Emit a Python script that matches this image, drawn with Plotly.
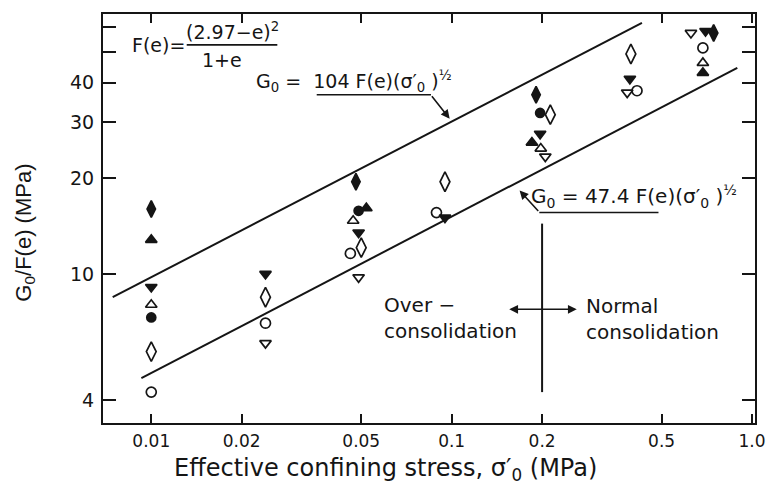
import plotly.graph_objects as go

# ---------------- data ----------------
x_ticks = [0.01, 0.02, 0.05, 0.1, 0.2, 0.5, 1.0]
x_ticktext = ["0.01", "0.02", "0.05", "0.1", "0.2", "0.5", "1.0"]
y_ticks = [4, 10, 20, 30, 40, 50, 60]
y_ticktext = ["4", "10", "20", "30", "40", "", ""]

# filled diamond
fd_x = [0.01, 0.048, 0.191, 0.745]
fd_y = [16.0, 19.5, 36.6, 57.3]
# filled triangle up
ftu_x = [0.01, 0.052, 0.185, 0.686]
ftu_y = [12.8, 16.1, 25.9, 42.9]
# filled triangle down
ftd_x = [0.01, 0.024, 0.049, 0.095, 0.197, 0.392, 0.70]
ftd_y = [9.1, 10.0, 13.5, 15.05, 27.6, 41.1, 58.1]
# open triangle up
otu_x = [0.01, 0.047, 0.198, 0.686]
otu_y = [8.0, 14.7, 24.8, 46.1]
# filled circle
fc_x = [0.01, 0.049, 0.197]
fc_y = [7.3, 15.8, 32.1]
# open diamond
od_x = [0.01, 0.024, 0.050, 0.095, 0.213, 0.395]
od_y = [5.7, 8.45, 12.1, 19.5, 31.7, 49.2]
# open circle
oc_x = [0.01, 0.024, 0.046, 0.089, 0.414, 0.686]
oc_y = [4.25, 7.0, 11.6, 15.6, 37.7, 51.4]
# open triangle down
otd_x = [0.024, 0.049, 0.205, 0.384, 0.626]
otd_y = [6.06, 9.76, 23.4, 37.2, 57.3]

# fitted lines (end points)
upper_x = [0.00744, 0.43]
upper_y = [8.45, 61.6]
lower_x = [0.00927, 0.893]
lower_y = [4.70, 44.5]
# boundary normal / over consolidation
bound_x = [0.2, 0.2]
bound_y = [14.4, 4.25]

# ---------------- layout helpers ----------------
W, H = 778, 489
L, R, T, B = 103, 765, 13, 423


def PX(px):
    return (px - L) / (R - L)


def PY(py):
    return (B - py) / (B - T)


INK = "#151515"
fig = go.Figure()

for xs, ys in [(upper_x, upper_y), (lower_x, lower_y), (bound_x, bound_y)]:
    fig.add_trace(go.Scatter(x=xs, y=ys, mode="lines",
                             line=dict(color=INK, width=2), showlegend=False,
                             hoverinfo="skip"))


def add_markers(xs, ys, symbol, size, filled, name):
    fig.add_trace(go.Scatter(
        x=xs, y=ys, mode="markers", name=name, showlegend=False,
        marker=dict(symbol=symbol, size=size,
                    color=INK if filled else "white",
                    line=dict(color=INK, width=1.7))))


add_markers(od_x, od_y, "diamond-tall", 14, False, "open diamond")
add_markers(oc_x, oc_y, "circle", 10, False, "open circle")
add_markers(otd_x, otd_y, "triangle-down", 10, False, "open triangle down")
add_markers(otu_x, otu_y, "triangle-up", 10, False, "open triangle up")
add_markers(fc_x, fc_y, "circle", 9, True, "filled circle")
add_markers(ftd_x, ftd_y, "triangle-down", 10, True, "filled triangle down")
add_markers(ftu_x, ftu_y, "triangle-up", 10, True, "filled triangle up")
add_markers(fd_x, fd_y, "diamond-tall", 12, True, "filled diamond")

annots = []


def text(px, py, s, xanchor="left", size=17, family="DejaVu Sans", align="left"):
    annots.append(dict(x=PX(px), y=PY(py), xref="paper", yref="paper",
                       text=s, showarrow=False, xanchor=xanchor, yanchor="middle",
                       align=align, font=dict(family=family, size=size, color=INK)))


def arrow(hx, hy, tx, ty, side="end"):
    annots.append(dict(x=PX(hx), y=PY(hy), xref="paper", yref="paper",
                       ax=tx - hx, ay=ty - hy, text="", showarrow=True,
                       arrowhead=2, arrowsize=1.1, arrowwidth=1.6,
                       arrowcolor=INK, arrowside=side))


# F(e) formula
text(188, 44, "F(e)=", xanchor="right", size=19)
text(234, 30, "(2.97−e)<sup>2</sup>", xanchor="center", size=19)
text(224, 59, "1+e", xanchor="center", size=19)
# upper label
text(256, 81, "G<sub>0</sub> =  104 F(e)(σ′<sub>0</sub> )<sup>½</sup>", size=19)
arrow(455, 118, 436, 94)
# lower label
text(536, 196, "G<sub>0</sub> = 47.4 F(e)(σ′<sub>0</sub> )<sup>½</sup>", size=20)
arrow(526, 190, 546, 212)
# consolidation labels
text(386, 318, "Over −<br>consolidation", size=20)
text(591, 319, "Normal<br>consolidation", size=20)
arrow(584, 309, 515, 309, side="end+start")

# axis titles
annots.append(dict(x=PX(390), y=PY(470), xref="paper", yref="paper",
                   text="Effective confining stress, σ′<sub>0</sub> (MPa)",
                   showarrow=False, xanchor="center", yanchor="middle",
                   font=dict(family="DejaVu Sans", size=24, color=INK)))
annots.append(dict(x=PX(24), y=PY(232), xref="paper", yref="paper",
                   text="G<sub>0</sub>/F(e) (MPa)", textangle=-90,
                   showarrow=False, xanchor="center", yanchor="middle",
                   font=dict(family="Liberation Sans", size=22, color=INK)))

shapes = [
    dict(type="line", xref="paper", yref="paper", x0=PX(188), x1=PX(280),
         y0=PY(44), y1=PY(44), line=dict(color=INK, width=1.6)),
    dict(type="line", xref="paper", yref="paper", x0=PX(320), x1=PX(436),
         y0=PY(94), y1=PY(94), line=dict(color=INK, width=1.6)),
    dict(type="line", xref="paper", yref="paper", x0=PX(546), x1=PX(667),
         y0=PY(212), y1=PY(212), line=dict(color=INK, width=1.6)),
]

fig.update_layout(
    width=W, height=H, autosize=False,
    margin=dict(l=L, r=W - R, t=T, b=H - B, pad=0),
    paper_bgcolor="white", plot_bgcolor="white",
    annotations=annots, shapes=shapes,
    xaxis=dict(type="log", range=[-2.1607, 0.0098], tickvals=x_ticks,
               ticktext=x_ticktext, ticks="inside", ticklen=9, tickwidth=1.6,
               tickcolor=INK, showline=True, linewidth=2, linecolor=INK,
               mirror="ticks", showgrid=False, zeroline=False,
               ticklabelstandoff=2,
               tickfont=dict(family="DejaVu Sans", size=17, color=INK)),
    yaxis=dict(type="log", range=[0.5312, 1.8177], tickvals=y_ticks,
               ticktext=y_ticktext, ticks="inside", ticklen=13, tickwidth=1.6,
               tickcolor=INK, showline=True, linewidth=2, linecolor=INK,
               mirror="ticks", showgrid=False, zeroline=False,
               ticklabelstandoff=3,
               tickfont=dict(family="DejaVu Sans", size=19, color=INK)),
)

fig.write_html("out.html")
